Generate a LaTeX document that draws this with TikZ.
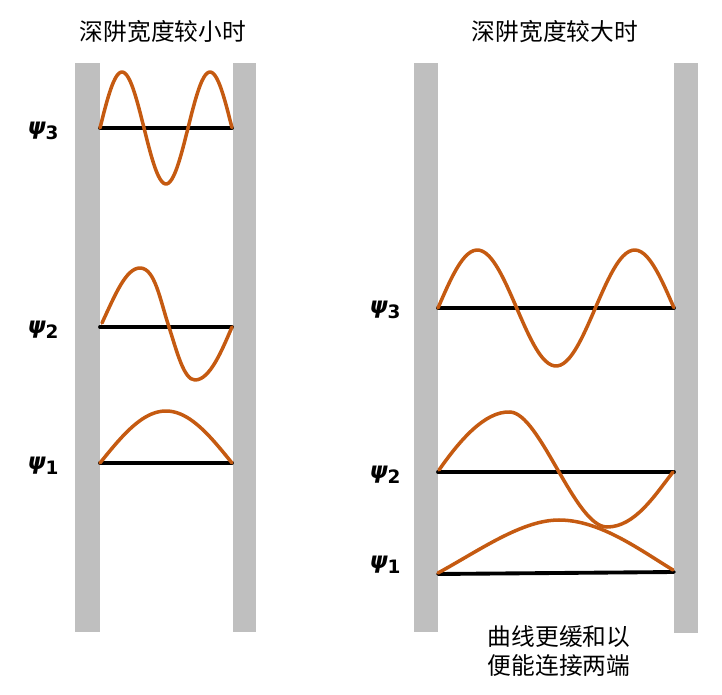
\documentclass[tikz,border=0pt]{standalone}
\usepackage{fontspec}
\newfontfamily\cjk{Noto Sans CJK SC}
\newfontfamily\psifont{DejaVu Sans}
\definecolor{wavecol}{HTML}{C55A11}
\definecolor{wallcol}{HTML}{BFBFBF}
\tikzset{
  wall/.style={fill=wallcol,draw=none},
  wave/.style={draw=wavecol,line width=2pt},
  base/.style={draw=black,line width=2.2pt},
  psilab/.style={inner sep=0pt},
  title/.style={inner sep=0pt,font=\cjk\fontsize{13.5}{17}\selectfont,align=center}
}
\newcommand{\psilabel}[1]{{\psifont\fontsize{13}{15}\selectfont\bfseries\itshape ψ\raisebox{-0.35ex}{\upshape\fontsize{10.5}{12}\selectfont #1}}}

\begin{document}
\begin{tikzpicture}[line cap=round,line join=round,x=0.02cm,y=-0.02cm]
\useasboundingbox (0,0) rectangle (722,695);
% walls
\fill[wall] (75,63) rectangle (100,632);
\fill[wall] (233,63) rectangle (256,632);
\fill[wall] (414,63) rectangle (438,632);
\fill[wall] (674,63) rectangle (698,633);
% titles
\node[title] (tsmall) at (163,32) {深阱宽度较小时};
\node[title] (tlarge) at (555,32) {深阱宽度较大时};
\node[title] (note) at (559,651) {曲线更缓和以\\便能连接两端};
% labels
\node[psilab] (ls3) at (43,131) {\psilabel{3}};
\node[psilab] (ls2) at (43,330) {\psilabel{2}};
\node[psilab] (ls1) at (43,466) {\psilabel{1}};
\node[psilab] (lb3) at (385,310) {\psilabel{3}};
\node[psilab] (lb2) at (385,475) {\psilabel{2}};
\node[psilab] (lb1) at (385,565) {\psilabel{1}};
% baselines
\coordinate (s3a) at (100,128); \coordinate (s3b) at (232,128);
\coordinate (s2a) at (100,327); \coordinate (s2b) at (232,327);
\coordinate (s1a) at (100,463); \coordinate (s1b) at (232,463);
\coordinate (b3a) at (438,308); \coordinate (b3b) at (674,308);
\coordinate (b2a) at (438,472); \coordinate (b2b) at (674,472);
\coordinate (b1a) at (438,574); \coordinate (b1b) at (674,572);
\draw[base] (s3a) -- (s3b);
\draw[base] (s2a) -- (s2b);
\draw[base] (s1a) -- (s1b);
\draw[base] (b3a) -- (b3b);
\draw[base] (b2a) -- (b2b);
\draw[base] (b1a) -- (b1b);
% narrow well
\draw[wave] plot[smooth,domain=0:1,samples=80] ({100+132*\x},{128-56*sin(540*\x)});
\draw[wave] (102,323) .. controls (115,295) and (126,268) .. (140,268)
  .. controls (155,268) and (160,300) .. (169,327)
  .. controls (177,352) and (184,380) .. (195,380)
  .. controls (210,380) and (222,350) .. (232,327);
\draw[wave] plot[smooth,domain=0:1,samples=60] ({100+132*\x},{463-52*sin(180*\x)});
% wide well
\draw[wave] plot[smooth,domain=0:1,samples=80] ({438+236*\x},{308-58*sin(540*\x)});
\draw[wave] (439,470) .. controls (460,440) and (485,411) .. (510,412)
  .. controls (540,413) and (575,527) .. (607,527)
  .. controls (635,527) and (655,495) .. (673,472);
\draw[wave] (438,573) .. controls (480,550) and (522,520) .. (559,520)
  .. controls (600,520) and (640,550) .. (673,570);
\end{tikzpicture}
\end{document}
